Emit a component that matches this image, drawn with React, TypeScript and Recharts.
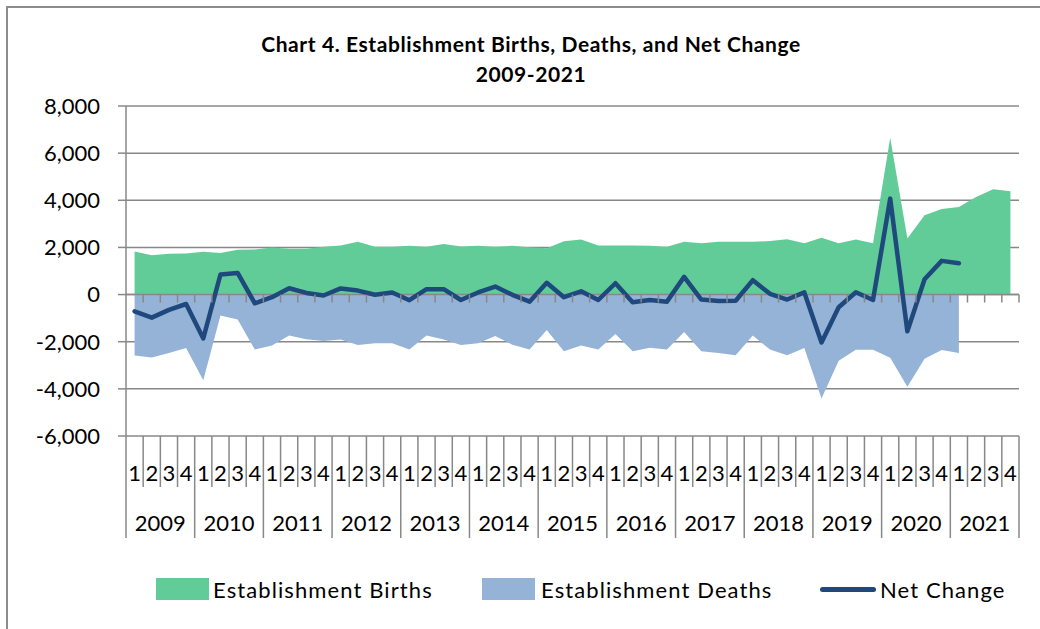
import { ComposedChart, Area, Line, XAxis, YAxis, CartesianGrid, ReferenceLine } from 'recharts';

const YEARS = ['2009', '2010', '2011', '2012', '2013', '2014', '2015', '2016', '2017', '2018', '2019', '2020', '2021'];
const QUARTERS = ['1', '2', '3', '4'];

// establishments, quarterly
const BIRTHS = [
  1830, 1670, 1730, 1740, 1820, 1760, 1900, 1910, 2000, 1940, 1940, 2030, 2080, 2240, 2030, 2030, 2070, 2030,
  2150, 2040, 2070, 2030, 2070, 2010, 1960, 2260, 2340, 2080, 2080, 2080, 2070, 2030, 2240, 2180, 2240, 2240,
  2240, 2270, 2350, 2180, 2410, 2180, 2340, 2180, 6650, 2380, 3360, 3630, 3710, 4140, 4470, 4380,
];
const DEATHS = [
  -2580, -2670, -2480, -2270, -3630, -890, -1060, -2330, -2160, -1740, -1900, -1970, -1910, -2140, -2060, -2060, -2330, -1740,
  -1910, -2140, -2060, -1760, -2130, -2330, -1500, -2400, -2160, -2330, -1670, -2400, -2260, -2330, -1590, -2400, -2480, -2570,
  -1740, -2330, -2570, -2270, -4410, -2810, -2340, -2340, -2680, -3910, -2720, -2350, -2480,
];
const NET = [
  -710, -980, -650, -400, -1860, 850, 920, -370, -110, 270, 70, -40, 260, 170, -10, 90, -240, 230,
  230, -230, 90, 340, -10, -300, 500, -110, 140, -230, 480, -330, -230, -300, 750, -210, -270, -260,
  610, 30, -210, 90, -2030, -540, 100, -230, 4070, -1560, 650, 1430, 1330,
];
const Y_TICKS = [-6000, -4000, -2000, 0, 2000, 4000, 6000, 8000];

const GREEN = '#61cc98';
const BLUE = '#95b3d7';
const NAVY = '#1f497d';
const GREY = '#888888';
const FONT = 'Lato, "Open Sans", sans-serif';

const W = 1040;
const H = 629;
const M = { top: 106, right: 21, bottom: 91, left: 66 };
const Y_W = 60;
const X_H = 102;
const PLOT_W = W - M.left - M.right - Y_W;
const PLOT_H = H - M.top - M.bottom - X_H;
const BAND = PLOT_W / (YEARS.length * QUARTERS.length);
const ZERO_UP = PLOT_H * (6000 / 14000);

const rows = YEARS.flatMap((y, yi) =>
  QUARTERS.map((q, qi) => {
    const i = yi * 4 + qi;
    return {
      key: `${y}-${q}`,
      births: BIRTHS[i] ?? null,
      deaths: DEATHS[i] ?? null,
      net: NET[i] ?? null,
    };
  })
);

const QuarterTick = (props: any) => {
  const { x, y, index, payload } = props;
  const [yr, q] = String(payload.value).split('-');
  const left = x - BAND / 2;
  const last = index === rows.length - 1;
  const zy = y - ZERO_UP;
  return (
    <g>
      <line x1={left} y1={y} x2={left} y2={y + (q === '1' ? 102 : 51)} stroke={GREY} strokeWidth={1.5} />
      {last && <line x1={left + BAND} y1={y} x2={left + BAND} y2={y + 102} stroke={GREY} strokeWidth={1.5} />}
      {index > 0 && <line x1={left} y1={zy} x2={left} y2={zy + 8} stroke={GREY} strokeWidth={1.5} />}
      {last && <line x1={left + BAND} y1={zy} x2={left + BAND} y2={zy + 8} stroke={GREY} strokeWidth={1.5} />}
      <text x={x} y={y + 36} textAnchor="middle" dominantBaseline="central" fontSize={22} fill="#000" fontFamily={FONT}>{q}</text>
      {q === '2' && (
        <text x={x + BAND / 2} y={y + 86} textAnchor="middle" dominantBaseline="central" fontSize={22} fill="#000" fontFamily={FONT}>{yr}</text>
      )}
    </g>
  );
};

const legendText = { position: 'absolute' as const, top: 575, fontFamily: FONT, fontSize: 22, letterSpacing: 1.1, lineHeight: '30px', color: '#000', whiteSpace: 'nowrap' as const };

const LegendRow = () => (
  <>
    <div style={{ position: 'absolute', left: 156, top: 578, width: 53, height: 22, background: GREEN }} />
    <div style={{ ...legendText, left: 213 }}>Establishment Births</div>
    <div style={{ position: 'absolute', left: 482, top: 578, width: 53, height: 22, background: BLUE }} />
    <div style={{ ...legendText, left: 541 }}>Establishment Deaths</div>
    <div style={{ position: 'absolute', left: 820, top: 587, width: 56, height: 5, background: NAVY, borderRadius: 3 }} />
    <div style={{ ...legendText, left: 880 }}>Net Change</div>
  </>
);

export default function App() {
  return (
    <div style={{ position: 'absolute', left: 0, top: 0, width: W, height: H, overflow: 'hidden', background: '#fff' }}>
      <div style={{ position: 'absolute', left: 6, top: 6, width: 1200, height: 800, border: '2px solid #8c8c8c' }} />
      <div style={{ position: 'absolute', left: 0, top: 29, width: 1062, textAlign: 'center', fontFamily: FONT, fontWeight: 700, fontSize: 21, letterSpacing: 0.6, lineHeight: '30px', color: '#000' }}>
        <div>Chart 4. Establishment Births, Deaths, and Net Change</div>
        <div>2009-2021</div>
      </div>
      <div style={{ position: 'absolute', left: 0, top: 0 }}>
        <ComposedChart width={W} height={H} data={rows} margin={M}>
          <CartesianGrid vertical={false} stroke={GREY} strokeWidth={1.5} />
          <XAxis dataKey="key" scale="band" interval={0} height={X_H} tickSize={0} tickMargin={0} axisLine={false} tickLine={false} tick={<QuarterTick />} />
          <YAxis
            width={Y_W}
            domain={[-6000, 8000]}
            ticks={Y_TICKS}
            interval={0}
            tickFormatter={(v: number) => v.toLocaleString('en-US')}
            tick={{ fontSize: 22, fill: '#000', fontFamily: FONT }}
            tickSize={8}
            tickMargin={18}
            stroke={GREY}
            strokeWidth={1.5}
          />
          <Area dataKey="births" type="linear" fill={GREEN} fillOpacity={1} stroke="none" isAnimationActive={false} />
          <Area dataKey="deaths" type="linear" fill={BLUE} fillOpacity={1} stroke="none" isAnimationActive={false} />
          <ReferenceLine y={0} stroke={GREY} strokeWidth={1.5} />
          <Line dataKey="net" type="linear" stroke={NAVY} strokeWidth={4.5} dot={false} strokeLinejoin="round" strokeLinecap="round" isAnimationActive={false} />
        </ComposedChart>
      </div>
      <LegendRow />
    </div>
  );
}
